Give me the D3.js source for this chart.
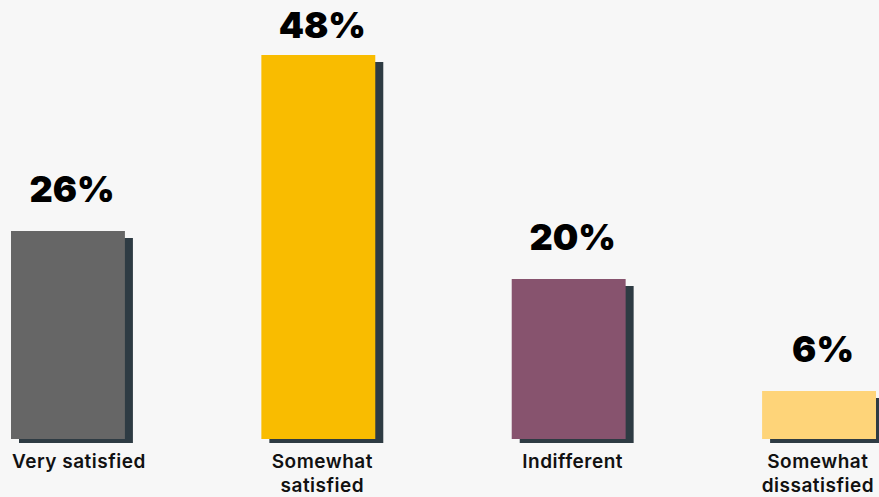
<!DOCTYPE html>
<html>
<head>
<meta charset="utf-8">
<script src="https://cdn.jsdelivr.net/npm/d3@7"></script>
<style>
  html, body { margin: 0; padding: 0; background: #f7f7f7; }
  #chart { width: 879px; height: 497px; }
</style>
</head>
<body>
<div id="chart"></div>
<script>
const CATEGORIES = [["Very satisfied"], ["Somewhat", "satisfied"], ["Indifferent"], ["Somewhat", "dissatisfied"]];
const VALUES = [26, 48, 20, 6];
const COLORS = ["#666666", "#f9bc00", "#87536e", "#fed479"];

const W = 879, H = 497;
const baseline = 439;
const shadowColor = "#2e3b43";

const svg = d3.select("#chart").append("svg")
  .attr("width", W).attr("height", H);

const keys = CATEGORIES.map((c) => c.join(" "));
const x = d3.scaleBand().domain(keys).range([11, 876]).paddingInner(0.545).paddingOuter(0);
const y = d3.scaleLinear().domain([0, 48]).range([baseline, 55]);

const data = keys.map((k, i) => ({ key: k, lines: CATEGORIES[i], value: VALUES[i], color: COLORS[i] }));
const mid = (d) => x(d.key) + (x.bandwidth() + 8) / 2;

// Shadows
svg.selectAll(".shadow")
  .data(data)
  .join("rect")
  .attr("class", "shadow")
  .attr("x", (d) => x(d.key) + 8)
  .attr("y", (d) => y(d.value) + 7)
  .attr("width", x.bandwidth())
  .attr("height", (d) => baseline - y(d.value) - 3)
  .attr("fill", shadowColor);

// Bars
svg.selectAll(".bar")
  .data(data)
  .join("rect")
  .attr("class", "bar")
  .attr("x", (d) => x(d.key))
  .attr("y", (d) => y(d.value))
  .attr("width", x.bandwidth())
  .attr("height", (d) => baseline - y(d.value))
  .attr("fill", (d) => d.color);

// Value labels
svg.selectAll(".value")
  .data(data)
  .join("text")
  .attr("class", "value")
  .attr("x", mid)
  .attr("y", (d) => Math.max(y(d.value) - 29, 38))
  .attr("text-anchor", "middle")
  .attr("font-family", "Inter, 'Open Sans', sans-serif")
  .attr("font-weight", 900)
  .attr("font-size", "36px")
  .attr("fill", "#000")
  .text((d) => d.value + "%");

// Category labels
const cat = svg.selectAll(".cat")
  .data(data)
  .join("text")
  .attr("class", "cat")
  .attr("text-anchor", "middle")
  .attr("font-family", "Inter, 'Open Sans', sans-serif")
  .attr("font-weight", 600)
  .attr("font-size", "19px")
  .attr("letter-spacing", "0.5px")
  .attr("fill", "#111");

cat.each(function (d) {
  const t = d3.select(this);
  d.lines.forEach((ln, i) => {
    t.append("tspan").attr("x", 0).attr("y", 468 + i * 24).text(ln);
  });
  // centre under bar + shadow, kept inside the plot edges
  const w = this.getBBox().width;
  let cx = mid(d);
  cx = Math.max(cx, 12 + w / 2);
  cx = Math.min(cx, 874 - w / 2);
  t.selectAll("tspan").attr("x", cx);
});
</script>
</body>
</html>
